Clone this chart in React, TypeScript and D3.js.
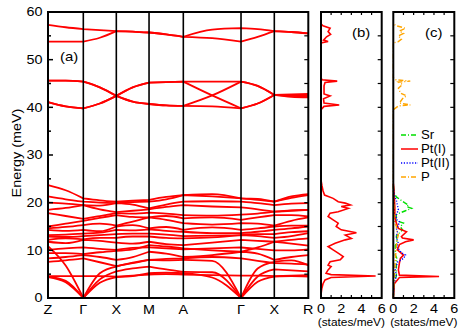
import React from "react";
import * as d3 from "d3";

// ---------- data ----------
const kLabels = ["Z", "Γ", "X", "M", "A", "Γ", "X", "R"];
// cumulative k-path distance of the high-symmetry points (relative units)
const kDist = [0, 0.612, 1.184, 1.751, 2.345, 3.345, 3.922, 4.511];
const energyTicks = [0, 10, 20, 30, 40, 50, 60];
const dosTicks = [0, 2, 4, 6];

// band energies (meV) sampled at Z, mid, Γ, mid, X, mid, M, mid, A, mid, Γ, mid, X, mid, R
const bandsLow: number[][] = [
  [4.6, 4.6, 4.6, 4.6, 4.5, 4.7, 4.9, 5.0, 4.9, 4.8, 4.7, 4.7, 4.6, 4.7, 4.8],
  [4.4, 3.3, 0, 3.2, 4.4, 4.6, 5.2, 5.3, 5.2, 4.3, 0, 3.4, 4.5, 4.6, 4.5],
  [4.5, 3.6, 0, 3.9, 5.6, 6.2, 6.6, 6.0, 5.5, 5.4, 0, 4.5, 6.0, 5.8, 5.6],
  [10.9, 6.8, 0, 5.2, 6.6, 7.4, 8.0, 7.9, 8.0, 7.8, 0, 6.2, 7.6, 7.9, 6.9],
  [7.6, 7.9, 8.3, 7.5, 6.7, 7.3, 8.0, 8.2, 8.3, 8.6, 8.3, 7.8, 7.3, 7.2, 7.0],
  [8.3, 8.6, 9.0, 8.6, 8.0, 8.6, 9.7, 9.3, 8.6, 9.0, 9.7, 9.3, 8.0, 8.6, 9.0],
  [9.4, 9.4, 9.2, 9.6, 9.9, 10.2, 11.1, 10.8, 10.4, 10.0, 9.7, 10.6, 11.8, 11.4, 11.0],
  [10.1, 10.4, 10.6, 10.3, 10.1, 10.5, 10.6, 10.4, 10.2, 10.4, 10.6, 10.3, 10.0, 10.0, 10.2],
  [11.8, 11.5, 12.2, 12.0, 11.6, 11.4, 11.8, 11.3, 11.1, 11.6, 12.2, 12.0, 11.8, 12.2, 12.5],
  [12.2, 12.5, 12.3, 12.6, 12.6, 12.9, 12.9, 12.6, 12.5, 12.7, 13.2, 13.0, 12.6, 13.0, 13.6],
  [12.9, 12.8, 13.0, 13.2, 13.4, 13.5, 13.5, 13.3, 13.0, 13.1, 13.2, 13.4, 13.4, 13.8, 14.0],
  [13.2, 13.3, 13.5, 13.7, 14.3, 14.2, 14.4, 14.1, 13.9, 13.6, 13.6, 13.9, 14.3, 14.6, 15.0],
  [14.3, 14.1, 14.3, 14.0, 15.0, 15.3, 14.6, 14.9, 14.3, 14.8, 14.3, 14.6, 15.0, 15.2, 15.2],
  [14.6, 14.9, 15.3, 15.6, 15.2, 16.0, 16.9, 16.4, 15.7, 15.4, 15.7, 15.6, 15.2, 16.2, 16.9],
  [15.0, 15.6, 16.2, 16.8, 17.4, 17.0, 16.9, 17.2, 16.7, 16.9, 16.4, 16.9, 17.4, 17.4, 17.1],
  [17.8, 17.2, 16.6, 17.2, 17.8, 17.7, 17.9, 17.7, 17.4, 17.3, 17.5, 17.7, 18.1, 18.3, 18.5],
  [18.5, 18.9, 19.5, 18.6, 18.0, 18.3, 18.6, 19.1, 19.5, 19.2, 19.0, 18.6, 18.1, 18.4, 18.5],
  [20.0, 19.8, 19.5, 19.4, 19.9, 19.6, 18.8, 19.6, 20.2, 20.3, 20.2, 19.9, 19.5, 19.8, 19.9],
  [21.3, 20.7, 20.2, 20.0, 19.9, 20.1, 20.2, 20.7, 21.6, 21.3, 20.9, 20.6, 20.2, 21.0, 21.6],
  [23.7, 22.6, 20.9, 20.5, 20.2, 20.4, 20.6, 21.2, 21.6, 21.8, 20.9, 20.8, 20.2, 21.3, 21.8],
];
const bandsMid: number[][] = [
  [45.6, 45.6, 45.4, 44.2, 42.4, 44.2, 45.2, 45.3, 45.4, 45.4, 45.4, 44.5, 42.6, 42.7, 42.8],
  [45.6, 45.6, 45.4, 44.2, 42.4, 41.2, 40.7, 40.4, 40.3, 42.5, 45.4, 44.5, 42.6, 42.5, 42.5],
  [41.1, 40.2, 39.8, 40.8, 42.4, 44.2, 45.2, 45.3, 45.4, 42.5, 39.8, 40.8, 42.6, 42.4, 42.3],
  [41.1, 40.2, 39.8, 40.8, 42.4, 41.2, 40.7, 40.4, 40.3, 40.2, 39.8, 40.8, 42.6, 42.2, 42.1],
];
const bandsHigh: number[][] = [
  [57.3, 56.8, 56.4, 56.2, 56.0, 55.9, 55.7, 55.3, 54.8, 56.3, 56.6, 56.4, 56.0, 55.8, 55.5],
  [53.8, 53.8, 53.8, 54.6, 56.0, 55.9, 55.7, 55.3, 54.8, 54.5, 53.8, 54.8, 56.0, 55.8, 55.5],
];

// total DOS, panel (b): [energy, states/meV]
const dosTotal: [number, number][] = [
  [0, 0], [1, 0.02], [2, 0.08], [3, 0.2], [3.8, 0.4], [4.3, 1.0], [4.6, 5.4], [4.9, 1.0], [5.2, 0.5],
  [5.9, 0.7], [6.6, 1.0], [6.9, 0.7], [7.6, 0.9], [8.0, 1.9], [8.7, 2.2], [9.4, 1.7], [10.1, 1.2],
  [10.8, 0.7], [11.5, 1.4], [12.2, 2.4], [12.5, 3.0], [13.2, 2.4], [13.7, 3.5], [14.3, 2.0], [15.0, 1.5],
  [15.7, 1.7], [16.4, 1.2], [17.1, 0.7], [17.8, 0.9], [18.1, 1.7], [18.8, 2.7], [19.2, 2.0], [19.5, 2.9],
  [19.9, 2.4], [20.2, 1.7], [20.9, 1.2], [21.6, 0.35], [22.5, 0.2], [23.5, 0.1], [24.5, 0.02], [25, 0],
  [39.5, 0], [40.2, 0.3], [40.5, 1.8], [40.9, 0.3], [41.8, 0.25], [42.4, 0.9], [42.8, 0.3], [44.5, 0.3],
  [45.2, 0.4], [45.5, 1.6], [45.8, 0.1], [46.2, 0], [53.5, 0], [53.8, 0.7], [54.1, 0.25], [54.8, 0.55],
  [55.3, 0.95], [55.9, 0.7], [56.6, 0.9], [57.1, 0.2], [57.5, 0], [60, 0],
];

// partial DOS, panel (c)
const dosSr: [number, number][] = [
  [0, 0], [3, 0.05], [4.6, 0.3], [5.9, 0.3], [7.5, 0.3], [8.3, 0.35], [9, 0.2], [11, 0.2], [12, 0.4],
  [13, 0.3], [14.3, 0.9], [15, 0.7], [15.7, 1.0], [16.2, 0.3], [17.5, 0.3], [17.8, 0.6], [18.3, 1.2],
  [18.8, 1.8], [19.2, 1.3], [19.5, 1.5], [20.0, 1.1], [20.6, 0.7], [21.2, 0.3], [22, 0.1], [23, 0.02], [24, 0],
];
const dosPt1: [number, number][] = [
  [0, 0], [3, 0.1], [4.3, 0.6], [4.5, 4.5], [4.8, 0.6], [5.9, 0.5], [7.3, 0.6], [8.3, 0.7], [9, 1.0],
  [10.1, 0.4], [11.2, 0.6], [11.8, 1.2], [12.2, 2.0], [12.6, 0.9], [12.9, 0.8], [13.9, 1.3], [14.6, 0.5],
  [15.7, 0.3], [17, 0.15], [19, 0.15], [21, 0.1], [23, 0.05], [24, 0],
];
const dosPt2: [number, number][] = [
  [0, 0], [3, 0.05], [4.6, 0.3], [6, 0.2], [7.5, 0.4], [8.3, 1.0], [9.0, 1.2], [9.5, 0.8], [10.1, 0.6],
  [10.8, 0.3], [11.5, 0.5], [12.5, 0.3], [13.9, 0.4], [14.6, 0.3], [15.3, 0.5], [16, 0.6], [16.5, 0.3],
  [17.5, 0.3], [18.5, 0.5], [19.5, 0.4], [20.5, 0.3], [21.5, 0.1], [23, 0],
];
const dosP: [number, number][] = [
  [0, 0], [4.6, 0.1], [8, 0.2], [11, 0.3], [12.5, 0.4], [13.2, 0.5], [14, 0.35], [15, 0.3], [16, 0.1],
  [20, 0.05], [22, 0], [39.5, 0], [40.3, 0.5], [40.5, 1.67], [40.9, 0.6], [41.8, 0.9], [42.4, 1.3],
  [43, 0.7], [44, 0.5], [44.8, 0.9], [45.3, 0.5], [45.5, 1.67], [45.8, 0.2], [46.2, 0], [53.5, 0],
  [53.8, 0.5], [54.3, 0.8], [55, 0.5], [55.5, 1.0], [56, 0.6], [56.6, 1.2], [57.1, 0.3], [57.5, 0],
];

const legendNames = ["Sr", "Pt(I)", "Pt(II)", "P"];
const legendColors = ["#00e000", "#ff0000", "#0000ff", "#ffa500"];
const legendDashes = ["5,2,1,2", "", "1.2,1.6", "5,2,1,2"];
const pdosSeries = [dosSr, dosPt1, dosPt2, dosP];

// ---------- layout ----------
const W = 463, H = 333;
const TOP = 12, BOT = 298;
const MX0 = 48, MX1 = 308.3;
const BX0 = 321, BX1 = 381.7;
const CX0 = 393.3, CX1 = 454.3;
const FONT = "'Liberation Sans', Arial, Helvetica, sans-serif";
const SX = 1.2; // horizontal stretch of the lettering

type TProps = { x: number; y: number; size: number; anchor?: string; sx?: number; rot?: number; children: React.ReactNode };
function T({ x, y, size, anchor = "start", sx = SX, rot = 0, children }: TProps) {
  return (
    <text
      transform={`translate(${x},${y})${rot ? ` rotate(${rot})` : ""} scale(${sx},1)`}
      fontSize={size}
      textAnchor={anchor}
      fill="#000"
    >
      {children}
    </text>
  );
}

export default function App() {
  const y = d3.scaleLinear().domain([0, 60]).range([BOT, TOP]);
  const xk = d3.scaleLinear().domain([0, kDist[kDist.length - 1]]).range([MX0, MX1]);
  const xb = d3.scaleLinear().domain([0, 6]).range([BX0, BX1]);
  const xc = d3.scaleLinear().domain([0, 6]).range([CX0, CX1]);

  const sampleK = (j: number) =>
    j % 2 === 0 ? kDist[j / 2] : (kDist[(j - 1) / 2] + kDist[(j + 1) / 2]) / 2;

  const segLine = d3
    .line<[number, number]>()
    .x((d) => xk(d[0]))
    .y((d) => y(d[1]))
    .curve(d3.curveMonotoneX);

  const bandPath = (band: number[]) => {
    let d = "";
    for (let s = 0; s < kDist.length - 1; s++) {
      const pts: [number, number][] = [0, 1, 2].map((o) => [sampleK(2 * s + o), band[2 * s + o]]);
      d += segLine(pts) || "";
    }
    return d;
  };

  const allBands = [...bandsLow, ...bandsMid, ...bandsHigh];

  const dosLineB = d3.line<[number, number]>().x((d) => xb(d[1])).y((d) => y(d[0]));
  const dosLineC = d3.line<[number, number]>().x((d) => xc(d[1])).y((d) => y(d[0]));

  const tickE5 = d3.range(5, 60, 5);
  const minorX = [1, 2, 3, 4, 5];

  const fs = 12;

  const panelFrameTicks = (x0: number, x1: number, key: string) => (
    <g key={key} stroke="#000">
      {tickE5.map((e) => (
        <line key={"r" + e} x1={x1} x2={x1 - 4} y1={y(e)} y2={y(e)} strokeWidth={1.2} />
      ))}
      {minorX.map((v) => {
        const xx = x0 + ((x1 - x0) * v) / 6;
        return (
          <g key={"t" + v}>
            <line x1={xx} x2={xx} y1={TOP} y2={TOP + 3} strokeWidth={1.2} />
            <line x1={xx} x2={xx} y1={BOT} y2={BOT - 3} strokeWidth={1.2} />
          </g>
        );
      })}
      <rect x={x0} y={TOP} width={x1 - x0} height={BOT - TOP} fill="none" strokeWidth={2} />
    </g>
  );

  return (
    <svg
      width={W}
      height={H}
      style={{ position: "absolute", left: 0, top: 0, background: "#fff" }}
      fontFamily={FONT}
    >
      <rect x={0} y={0} width={W} height={H} fill="#fff" />
      {/* bands */}
      <g fill="none" stroke="#ff0000" strokeWidth={1.8}>
        {allBands.map((b, i) => (
          <path key={i} d={bandPath(b)} />
        ))}
      </g>
      {/* high-symmetry lines */}
      <g stroke="#000" strokeWidth={1.6}>
        {kDist.slice(1, -1).map((k, i) => (
          <line key={i} x1={xk(k)} x2={xk(k)} y1={TOP} y2={BOT} />
        ))}
      </g>
      {/* main frame & ticks */}
      <g stroke="#000">
        {d3.range(0, 61, 5).map((e) => (
          <line key={"l" + e} x1={MX0} x2={MX0 + (e % 10 === 0 ? 5 : 3)} y1={y(e)} y2={y(e)} strokeWidth={1.5} />
        ))}
        {tickE5.map((e) => (
          <line key={"rr" + e} x1={MX1} x2={MX1 - 4} y1={y(e)} y2={y(e)} strokeWidth={1.2} />
        ))}
        <rect x={MX0} y={TOP} width={MX1 - MX0} height={BOT - TOP} fill="none" strokeWidth={2} />
      </g>
      {/* y tick labels */}
      {energyTicks.map((e) => (
        <T key={e} x={42.5} y={y(e) + 4.2} size={fs} anchor="end">
          {e}
        </T>
      ))}
      <T x={21} y={(TOP + BOT) / 2 - 2} size={fs} anchor="middle" rot={-90}>
        Energy (meV)
      </T>
      {/* k labels */}
      {kLabels.map((l, i) => (
        <T key={i} x={xk(kDist[i])} y={314} size={fs} anchor="middle">
          {l}
        </T>
      ))}
      <T x={60} y={61} size={13} sx={1.15}>
        (a)
      </T>

      {/* panel b */}
      <path d={dosLineB(dosTotal) || ""} fill="none" stroke="#ff0000" strokeWidth={1.6} />
      {panelFrameTicks(BX0, BX1, "b")}
      <T x={352} y={37} size={13} sx={1.15}>
        (b)
      </T>

      {/* panel c */}
      {pdosSeries.map((s, i) => (
        <path
          key={i}
          d={dosLineC(s) || ""}
          fill="none"
          stroke={legendColors[i]}
          strokeWidth={i === 1 ? 1.6 : 1.4}
          strokeDasharray={legendDashes[i] || undefined}
        />
      ))}
      {panelFrameTicks(CX0, CX1, "c")}
      <T x={425} y={37} size={13} sx={1.15}>
        (c)
      </T>

      {/* legend */}
      {legendNames.map((n, i) => {
        const ly = 135 + i * 14;
        return (
          <g key={n}>
            <line
              x1={401}
              x2={418}
              y1={ly}
              y2={ly}
              stroke={legendColors[i]}
              strokeWidth={1.5}
              strokeDasharray={legendDashes[i] || undefined}
            />
            <T x={421} y={ly + 4.3} size={fs} sx={1.1}>
              {n}
            </T>
          </g>
        );
      })}

      {/* dos axis labels */}
      {dosTicks.map((v) => (
        <T key={"b" + v} x={xb(v)} y={313} size={fs} anchor="middle">
          {v}
        </T>
      ))}
      {dosTicks.map((v) => (
        <T key={"c" + v} x={xc(v)} y={313} size={fs} anchor="middle">
          {v}
        </T>
      ))}
      <T x={(BX0 + BX1) / 2} y={325.5} size={11} sx={1.08} anchor="middle">
        (states/meV)
      </T>
      <T x={(CX0 + CX1) / 2} y={325.5} size={11} sx={1.08} anchor="middle">
        (states/meV)
      </T>
    </svg>
  );
}
